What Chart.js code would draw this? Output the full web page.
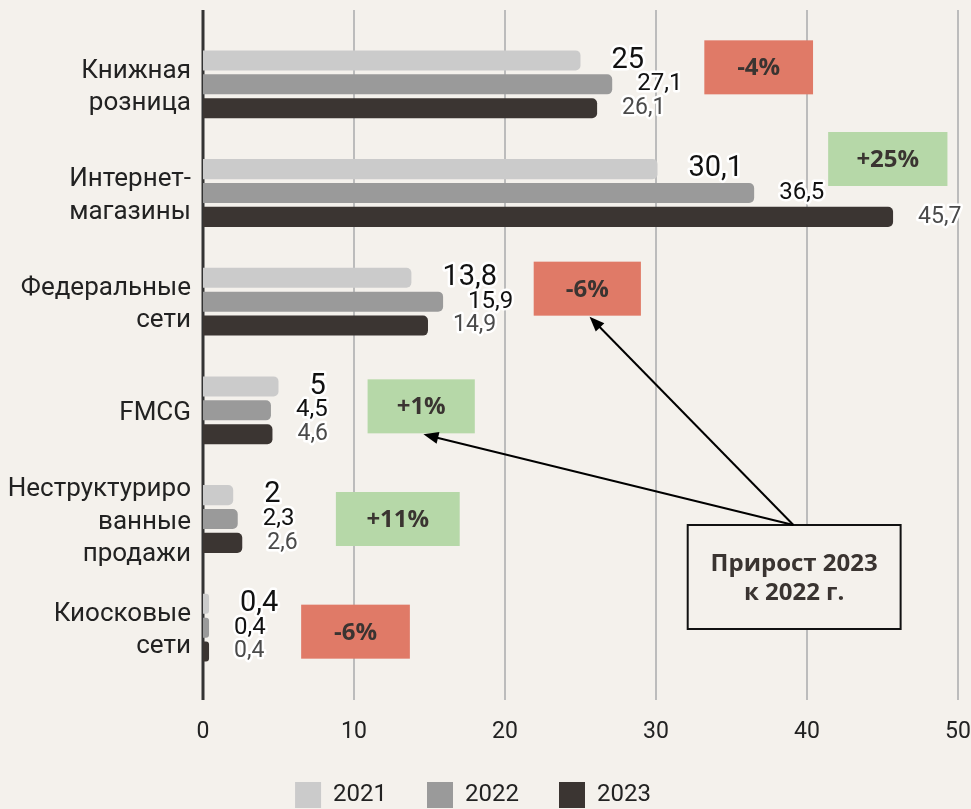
<!DOCTYPE html>
<html>
<head>
<meta charset="utf-8">
<script src="https://cdn.jsdelivr.net/npm/chart.js@4.4.1/dist/chart.umd.min.js"></script>
<style>
  html, body { margin: 0; padding: 0; background: #f4f1ec; overflow: hidden; }
  #wrap { width: 983px; height: 818px; margin-left: -12px; }
</style>
</head>
<body>
<div id="wrap"><canvas id="myChart"></canvas></div>
<script>
// datos del grafico
const categorias = [["Книжная", "розница"], ["Интернет-", "магазины"], ["Федеральные", "сети"], "FMCG", ["Неструктуриро", "ванные", "продажи"], ["Киосковые", "сети"]];
const anios = ["2021", "2022", "2023"];
const datos2021 = [25, 30.1, 13.8, 5, 2, 0.4];
const datos2022 = [27.1, 36.5, 15.9, 4.5, 2.3, 0.4];
const datos2023 = [26.1, 45.7, 14.9, 4.6, 2.6, 0.4];
const prirost = ["-4%", "+25%", "-6%", "+1%", "+11%", "-6%"];
const ticksX = [0, 10, 20, 30, 40, 50];
const textoNota = ["Прирост 2023", "к 2022 г."];

// ubicacion de las cajas de prirost: desde/hasta en valores del eje x, dy en px respecto al centro de la categoria
const cajas = [
  { desde: 33.2, hasta: 40.4, dy: -17 },
  { desde: 41.4, hasta: 49.3, dy: -34 },
  { desde: 21.9, hasta: 29.0, dy: -13 },
  { desde: 10.9, hasta: 18.0, dy: -4 },
  { desde: 8.8, hasta: 17.0, dy: 0 },
  { desde: 6.5, hasta: 13.7, dy: 4 }
];
const ALTO_CAJA = 54;

const colores = ["#cbcbcb", "#9a9a9a", "#3b3532"];
const FONDO = "#f4f1ec";

// lineas verticales de la grilla (mas largas que el area del grafico)
const grillaPlugin = {
  id: "grilla",
  beforeDatasetsDraw(chart) {
    const ctx = chart.ctx;
    const sx = chart.scales.x;
    ctx.save();
    ticksX.forEach(v => {
      const x = sx.getPixelForValue(v);
      ctx.beginPath();
      if (v === 0) {
        ctx.strokeStyle = "#333";
        ctx.lineWidth = 3;
      } else {
        ctx.strokeStyle = "#bcbcbc";
        ctx.lineWidth = 2;
      }
      ctx.moveTo(x, 10);
      ctx.lineTo(x, 700);
      ctx.stroke();
    });
    ctx.restore();
  }
};

function flecha(ctx, x1, y1, x2, y2) {
  const ang = Math.atan2(y2 - y1, x2 - x1);
  const largo = 15, ancho = 6;
  ctx.beginPath();
  ctx.moveTo(x1, y1);
  ctx.lineTo(x2 - Math.cos(ang) * largo * 0.8, y2 - Math.sin(ang) * largo * 0.8);
  ctx.stroke();
  ctx.beginPath();
  ctx.moveTo(x2, y2);
  ctx.lineTo(x2 - Math.cos(ang) * largo - Math.sin(ang) * ancho, y2 - Math.sin(ang) * largo + Math.cos(ang) * ancho);
  ctx.lineTo(x2 - Math.cos(ang) * largo + Math.sin(ang) * ancho, y2 - Math.sin(ang) * largo - Math.cos(ang) * ancho);
  ctx.closePath();
  ctx.fill();
}

// cajas de prirost, nota y flechas
const notasPlugin = {
  id: "notas",
  afterDatasetsDraw(chart) {
    const ctx = chart.ctx;
    const sx = chart.scales.x;
    const sy = chart.scales.y;
    ctx.save();
    ctx.textAlign = "center";
    ctx.textBaseline = "middle";
    ctx.font = "bold 24px 'Open Sans'";
    cajas.forEach((c, i) => {
      const x1 = sx.getPixelForValue(c.desde);
      const x2 = sx.getPixelForValue(c.hasta);
      const yc = sy.getPixelForValue(i) + c.dy;
      ctx.fillStyle = prirost[i].startsWith("-") ? "#e07a67" : "#b6d8a8";
      ctx.fillRect(x1, yc - ALTO_CAJA / 2, x2 - x1, ALTO_CAJA);
      ctx.fillStyle = "#3a3431";
      ctx.fillText(prirost[i], (x1 + x2) / 2, yc + 1);
    });

    // caja de la nota
    const nx1 = sx.getPixelForValue(32.1);
    const nx2 = sx.getPixelForValue(46.2);
    const ny1 = 525, ny2 = 629;
    ctx.fillStyle = FONDO;
    ctx.fillRect(nx1, ny1, nx2 - nx1, ny2 - ny1);
    ctx.strokeStyle = "#111";
    ctx.lineWidth = 2;
    ctx.strokeRect(nx1, ny1, nx2 - nx1, ny2 - ny1);
    ctx.fillStyle = "#3a3431";
    ctx.fillText(textoNota[0], (nx1 + nx2) / 2, ny1 + 39);
    ctx.fillText(textoNota[1], (nx1 + nx2) / 2, ny1 + 68);

    // flechas hacia las cajas -6% y +1%
    const ox = sx.getPixelForValue(39.1);
    ctx.strokeStyle = "#000";
    ctx.fillStyle = "#000";
    ctx.lineWidth = 2;
    flecha(ctx, ox, ny1, sx.getPixelForValue(25.6), sy.getPixelForValue(2) + cajas[2].dy + ALTO_CAJA / 2 + 1);
    flecha(ctx, ox, ny1, sx.getPixelForValue(14.6), sy.getPixelForValue(3) + cajas[3].dy + ALTO_CAJA / 2 + 1);
    ctx.restore();
  }
};

// etiquetas con los valores al final de cada barra
const valoresPlugin = {
  id: "valores",
  afterDraw(chart) {
    const ctx = chart.ctx;
    const estilos = [
      { font: "29px Roboto", color: "#111", sep: 31 },
      { font: "24px Roboto", color: "#111", sep: 25 },
      { font: "23px Roboto", color: "#4a4a4a", sep: 25 }
    ];
    ctx.save();
    ctx.textAlign = "left";
    ctx.textBaseline = "middle";
    ctx.lineJoin = "round";
    chart.data.datasets.forEach((ds, d) => {
      const meta = chart.getDatasetMeta(d);
      const e = estilos[d];
      ctx.font = e.font;
      meta.data.forEach((bar, i) => {
        const txt = String(ds.data[i]).replace(".", ",");
        const x = bar.x + e.sep;
        const y = bar.y;
        ctx.strokeStyle = "#fff";
        ctx.lineWidth = 5;
        ctx.strokeText(txt, x, y);
        ctx.fillStyle = e.color;
        ctx.fillText(txt, x, y);
      });
    });
    ctx.restore();
  }
};

const ctx = document.querySelector("#myChart").getContext("2d");
const myChart = new Chart(ctx, {
  type: "bar",
  data: {
    labels: categorias,
    datasets: [
      { label: anios[0], data: datos2021, backgroundColor: colores[0] },
      { label: anios[1], data: datos2022, backgroundColor: colores[1] },
      { label: anios[2], data: datos2023, backgroundColor: colores[2] }
    ]
  },
  options: {
    indexAxis: "y",
    responsive: true,
    maintainAspectRatio: false,
    animation: false,
    layout: { padding: { top: 30, right: 13, left: 0, bottom: 0 } },
    datasets: {
      bar: {
        categoryPercentage: 0.66,
        barPercentage: 0.84,
        borderRadius: 5,
        borderWidth: 0
      }
    },
    scales: {
      x: {
        min: 0,
        max: 50,
        afterBuildTicks: (scale) => { scale.ticks = ticksX.map(v => ({ value: v })); },
        afterFit: (scale) => {
          scale.height = 60;
          scale.paddingLeft = 0;
          scale.paddingRight = 0;
        },
        grid: { display: false, drawTicks: false },
        border: { display: false },
        ticks: { padding: 36, color: "#222", font: { family: "Roboto", size: 23 } }
      },
      y: {
        afterFit: (scale) => {
          scale.width = 215;
          scale.paddingTop = 0;
          scale.paddingBottom = 0;
        },
        grid: { display: false, drawTicks: false },
        border: { display: false },
        ticks: { padding: 12, labelOffset: 3, color: "#222", font: { family: "Roboto", size: 26, lineHeight: 1.25 } }
      }
    },
    plugins: {
      legend: {
        position: "bottom",
        labels: {
          boxWidth: 26,
          boxHeight: 26,
          padding: 40,
          color: "#222",
          font: { family: "Roboto", size: 24 }
        }
      },
      tooltip: { enabled: false }
    }
  },
  plugins: [grillaPlugin, notasPlugin, valoresPlugin]
});
</script>
</body>
</html>
